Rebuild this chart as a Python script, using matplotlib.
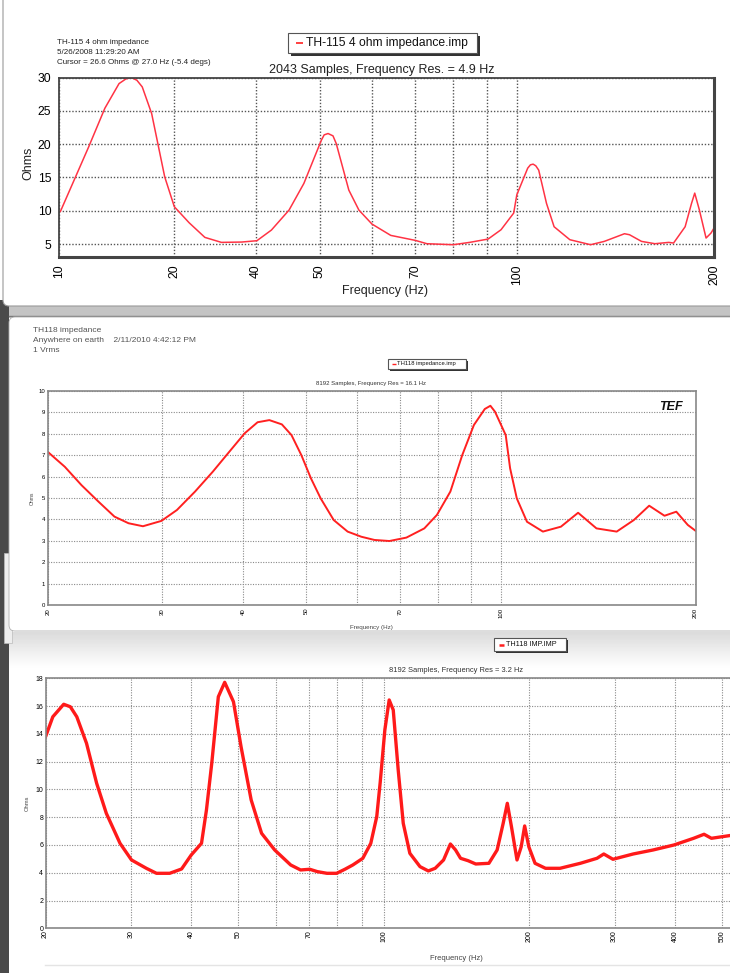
import matplotlib.pyplot as plt
from matplotlib.patches import Rectangle, FancyBboxPatch
from matplotlib.ticker import FixedLocator, NullFormatter
import numpy as np

plt.rcParams['font.family'] = ['Liberation Sans', 'DejaVu Sans']

W, H = 730, 973

# --- top chart: TH-115 4 ohm impedance ---
th115_freq = [20.1, 22.2, 23.5, 24.7, 25.3, 25.8, 26.3, 26.8, 27.7, 29.0, 30.0, 31.6,
              33.4, 35.4, 38.0, 40.1, 42.2, 44.9, 47.3, 50.3, 50.8, 51.5, 52.4, 53.0,
              55.4, 57.4, 60.1, 64.2, 70.0, 72.9, 80.0, 84.7, 90.4, 94.6, 98.9, 100.0,
              103.9, 104.9, 105.9, 106.9, 108.0, 111.0, 114.0, 120.5, 129.6, 136.0,
              146.0, 148.6, 155.0, 162.5, 170.6, 173.5, 180.7, 184.8, 186.9, 190.0,
              194.5, 197.9, 200.0]
th115_ohms = [9.9, 19.6, 25.4, 29.1, 29.8, 30.0, 29.6, 28.6, 24.6, 15.1, 10.6, 8.2,
              6.0, 5.25, 5.3, 5.5, 7.1, 10.1, 14.1, 20.6, 21.4, 21.6, 21.25, 20.1,
              13.1, 10.1, 8.0, 6.3, 5.55, 5.05, 4.9, 5.25, 5.75, 7.15, 9.65, 12.4,
              16.4, 16.9, 17.0, 16.75, 16.1, 11.1, 7.6, 5.65, 4.9, 5.4,
              6.55, 6.4, 5.4, 5.05, 5.25, 5.15, 7.6, 11.1, 12.65, 10.1,
              5.9, 6.65, 7.4]
th115_xticks = [20, 30, 40, 50, 70, 100, 200]
th115_xlabels = ['10', '20', '40', '50', '70', '100', '200']
th115_xgrid = [60, 80, 90]
th115_yticks = [5, 10, 15, 20, 25, 30]
th115_header = ['TH-115 4 ohm impedance', '5/26/2008 11:29:20 AM',
                'Cursor = 26.6 Ohms @ 27.0 Hz (-5.4 degs)']

# --- middle chart: TH118 impedance ---
th118a_freq = [20.0, 21.2, 22.5, 23.9, 25.3, 26.6, 28.0, 29.9, 31.6, 33.7, 35.9, 37.9,
               40.2, 42.1, 43.9, 45.9, 47.5, 49.2, 50.9, 52.7, 55.2, 58.0, 60.9, 63.8,
               67.3, 71.5, 76.2, 79.7, 83.6, 87.2, 90.9, 94.5, 96.4, 98.0, 101.8, 103.4,
               105.9, 109.8, 116.2, 123.9, 131.7, 140.6, 151.1, 160.6, 169.6, 179.1,
               186.8, 194.6, 200.0]
th118a_ohms = [7.13, 6.46, 5.6, 4.83, 4.13, 3.82, 3.68, 3.93, 4.44, 5.3, 6.23, 7.09,
               8.02, 8.54, 8.64, 8.44, 7.94, 7.0, 5.92, 4.98, 3.97, 3.43, 3.19, 3.04,
               2.99, 3.15, 3.58, 4.21, 5.3, 7.0, 8.41, 9.16, 9.31, 9.03, 7.94, 6.39,
               4.98, 3.89, 3.43, 3.66, 4.31, 3.58, 3.43, 3.97, 4.64, 4.17,
               4.36, 3.74, 3.47]
th118a_xticks = [20, 30, 40, 50, 70, 100, 200]
th118a_xgrid = [60, 80, 90]
th118a_yticks = list(range(0, 11))
th118a_header = ['TH118 impedance', 'Anywhere on earth    2/11/2010 4:42:12 PM', '1 Vrms']

# --- bottom chart: TH118 IMP.IMP ---
th118b_freq = [20.0, 20.7, 21.8, 22.5, 23.2, 24.3, 25.5, 26.7, 28.5, 30.1, 32.3, 33.9,
               36.1, 38.2, 40.0, 42.0, 43.0, 44.1, 45.5, 46.9, 48.9, 50.7, 53.2, 55.9,
               59.5, 64.2, 67.3, 70.3, 72.9, 76.3, 79.9, 83.1, 86.3, 90.5, 94.0, 96.7,
               98.3, 100.5, 102.6, 104.6, 107.1, 109.7, 113.2, 118.8, 123.6, 127.7,
               132.9, 137.3, 140.7, 144.1, 149.3, 154.9, 164.9, 171.5, 176.5, 180.0,
               183.6, 188.5, 192.3, 195.5, 199.4, 205.4, 215.9, 231.3, 254.8, 275.8,
               284.9, 297.6, 327.6, 360.3, 397.9, 436.8, 459.1, 475.5, 517.4]
th118b_ohms = [13.8, 15.23, 16.13, 15.95, 15.23, 13.32, 10.44, 8.28, 6.12, 4.92, 4.32, 3.96,
               3.96, 4.27, 5.28, 6.12, 8.52, 11.88, 16.67, 17.71, 16.31, 13.07, 9.24, 6.84,
               5.64, 4.56, 4.2, 4.25, 4.08, 3.96, 3.96, 4.25, 4.56, 5.04, 6.12, 8.04,
               10.5, 14.28, 16.44, 15.72, 11.4, 7.56, 5.4, 4.44, 4.13, 4.32,
               4.92, 6.07, 5.64, 5.04, 4.87, 4.63, 4.68, 5.64, 7.56, 9.0,
               7.31, 4.92, 5.87, 7.37, 5.87, 4.68, 4.32, 4.32, 4.68, 5.04,
               5.35, 4.97, 5.35, 5.64, 6.0, 6.48, 6.77, 6.48, 6.67]
th118b_xticks = [20, 30, 40, 50, 70, 100, 200, 300, 400, 500]
th118b_xgrid = [60, 80, 90]
th118b_yticks = list(range(0, 19, 2))


def px_axes(fig, left, top, right, bottom):
    return fig.add_axes([left / W, 1 - bottom / H, (right - left) / W, (bottom - top) / H])


def ftext(fig, x, y, s, **kw):
    fig.text(x / W, 1 - y / H, s, **kw)


def gradient(ax, x0, x1, y0, y1, c0, c1):
    g = np.linspace(c0, c1, 64).reshape(-1, 1)
    ax.imshow(g, cmap='gray', vmin=0, vmax=1, extent=[x0, x1, y1, y0],
              aspect='auto', interpolation='bilinear', zorder=1)


def legend_box(ax, x0, y0, x1, y1, label, fs, lw, shadow=2):
    ax.add_patch(Rectangle((x0 + shadow, y0 + shadow), x1 - x0, y1 - y0,
                           facecolor='#333333', edgecolor='none', zorder=5))
    ax.add_patch(Rectangle((x0, y0), x1 - x0, y1 - y0, facecolor='white',
                           edgecolor='#555555', lw=0.8, zorder=6))
    h = y1 - y0
    ax.plot([x0 + h * 0.4, x0 + h * 0.75], [(y0 + y1) / 2] * 2, color='#ff2020', lw=lw, zorder=7,
            solid_capstyle='butt')
    ax.text(x0 + h * 0.9, (y0 + y1) / 2, label, fontsize=fs, va='center', ha='left', zorder=7,
            color='#111111')


def style_axes(ax, xticks, xlabels, xgrid, yticks, xlim, ylim, grid_color, grid_lw,
               tick_fs, xpad, ypad, spine_color, spine_lw):
    ax.set_xscale('log')
    ax.set_xlim(*xlim)
    ax.set_ylim(*ylim)
    ax.xaxis.set_major_locator(FixedLocator(xticks))
    ax.set_xticklabels(xlabels, rotation=90, fontsize=tick_fs)
    ax.xaxis.set_minor_locator(FixedLocator(xgrid))
    ax.xaxis.set_minor_formatter(NullFormatter())
    ax.set_yticks(yticks)
    ax.set_yticklabels([str(v) for v in yticks], fontsize=tick_fs)
    ax.tick_params(axis='both', which='both', length=0)
    ax.tick_params(axis='x', pad=xpad)
    ax.tick_params(axis='y', pad=ypad)
    ax.grid(True, which='both', color=grid_color, lw=grid_lw, linestyle=(0, (1, 1.3)))
    for s in ax.spines.values():
        s.set_color(spine_color)
        s.set_linewidth(spine_lw)


fig = plt.figure(figsize=(W / 100, H / 100), dpi=100)
fig.patch.set_facecolor('white')

# background: stacked screenshot cards
bg = fig.add_axes([0, 0, 1, 1])
bg.set_xlim(0, W)
bg.set_ylim(H, 0)
bg.axis('off')
bg.add_patch(Rectangle((0, 0), W, H, facecolor='white', edgecolor='none', zorder=0))
bg.add_patch(Rectangle((0, 300), W, 18, facecolor='#c4c4c4', edgecolor='none', zorder=1))
bg.add_patch(Rectangle((0, 300), 9, H - 300, facecolor='#4a4a4a', edgecolor='none', zorder=1))
bg.add_patch(FancyBboxPatch((3, -10), W + 20, 316, boxstyle='round,pad=0,rounding_size=6',
                            facecolor='white', edgecolor='#9a9a9a', lw=0.8, zorder=2))
bg.plot([9, W], [316, 316], color='#7a7a7a', lw=1.0, zorder=2)
bg.add_patch(Rectangle((4, 553), 8, 90, facecolor='#eeeeee', edgecolor='#bbbbbb', lw=0.5, zorder=2))
gradient(bg, 9, W, 632, 668, 0.86, 1.0)
bg.add_patch(Rectangle((9, 668), W, H - 668, facecolor='white', edgecolor='none', zorder=1))
bg.add_patch(FancyBboxPatch((9, 317), W + 20, 314, boxstyle='round,pad=0,rounding_size=6',
                            facecolor='white', edgecolor='#b0b0b0', lw=0.6, zorder=3))
gradient(bg, 10, W, 318, 372, 0.84, 1.0)
bg.plot([45, W], [965, 965], color='#e4e4e4', lw=1.0, zorder=3)

# ---- chart 1 ----
for i, line in enumerate(th115_header):
    ftext(fig, 57, 42 + 10 * i, line, fontsize=5.8, va='center', color='#222222')
legend_box(bg, 288, 33, 477, 53, 'TH-115 4 ohm impedance.imp', 8.7, 1.2, shadow=2.5)
ftext(fig, 382, 70, '2043 Samples, Frequency Res. = 4.9 Hz', fontsize=9, ha='center',
      va='center', color='#222222')
ax1 = px_axes(fig, 59, 77.6, 714, 256.7)
ax1.plot(th115_freq, th115_ohms, color='#ff3344', lw=1.1)
style_axes(ax1, th115_xticks, th115_xlabels, th115_xgrid, th115_yticks, (20, 200), (3.1, 30),
           '#555555', 1.0, 8.7, 5.5, 5.5, '#444444', 1.3)
ax1.spines['right'].set_linewidth(2.2)
ax1.spines['bottom'].set_linewidth(2.2)
ftext(fig, 28, 163, 'Ohms', fontsize=9, rotation=90, ha='center', va='center', color='#222222')
ftext(fig, 385, 291, 'Frequency (Hz)', fontsize=9, ha='center', va='center', color='#222222')

# ---- chart 2 ----
for i, line in enumerate(th118a_header):
    ftext(fig, 33, 330 + 10 * i, line, fontsize=6, va='center', color='#555555')
legend_box(bg, 388, 359, 466, 369, 'TH118 impedance.imp', 4.2, 1.0, shadow=1.5)
ftext(fig, 371, 384, '8192 Samples, Frequency Res = 16.1 Hz', fontsize=4.3, ha='center',
      va='center', color='#333333')
ax2 = px_axes(fig, 48.4, 391, 695.5, 605)
ax2.plot(th118a_freq, th118a_ohms, color='#ff2020', lw=1.4)
style_axes(ax2, th118a_xticks, [str(v) for v in th118a_xticks], th118a_xgrid, th118a_yticks,
           (20, 200), (0, 10), '#8a8a8a', 0.8, 4.3, 2.0, 2.3, '#888888', 1.2)
ax2.text(0.962, 0.955, 'TEF', transform=ax2.transAxes, fontsize=9, fontweight='heavy',
         fontstyle='italic', ha='center', va='top', color='#111111')
ftext(fig, 32, 498, 'Ohms', fontsize=3.6, rotation=90, ha='center', va='center', color='#444444')
ftext(fig, 371, 628, 'Frequency (Hz)', fontsize=4.5, ha='center', va='center', color='#444444')

# ---- chart 3 ----
legend_box(bg, 494, 638, 566, 651, 'TH118 IMP.IMP', 5.2, 1.8, shadow=1.8)
ftext(fig, 456, 670, '8192 Samples, Frequency Res = 3.2 Hz', fontsize=5.4, ha='center',
      va='center', color='#333333')
ax3 = px_axes(fig, 45.6, 678.3, 760.3, 928.3)
ax3.plot(th118b_freq, th118b_ohms, color='#ff1a1a', lw=2.4)
style_axes(ax3, th118b_xticks, [str(v) for v in th118b_xticks], th118b_xgrid, th118b_yticks,
           (20, 600), (0, 18), '#8a8a8a', 0.8, 5.0, 1.5, 1.7, '#888888', 1.2)
ftext(fig, 27, 803, 'Ohms', fontsize=4.2, rotation=90, ha='center', va='center', color='#444444')
ftext(fig, 456, 958, 'Frequency (Hz)', fontsize=5.5, ha='center', va='center', color='#444444')

fig.savefig('out.png', dpi=100)
